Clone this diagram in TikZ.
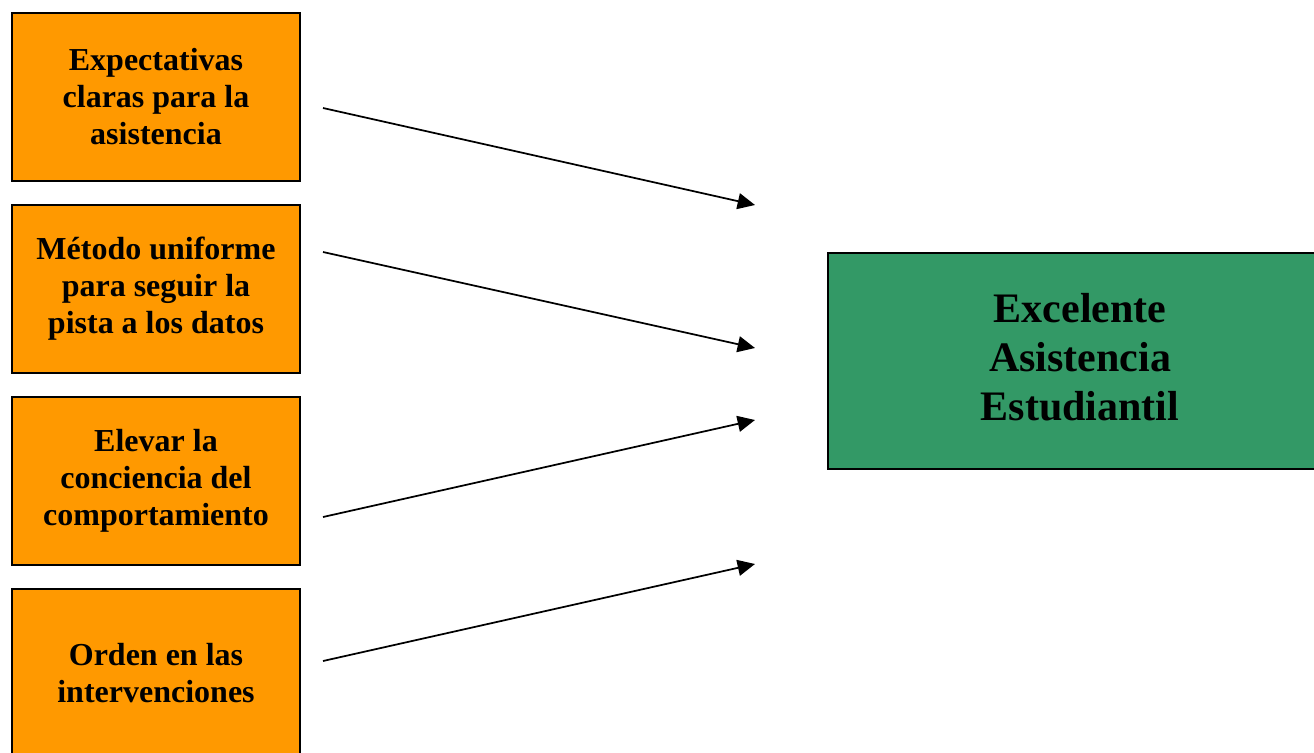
\documentclass[tikz,border=0pt]{standalone}
\usepackage{fontspec}
\setmainfont{Liberation Serif}
\usetikzlibrary{arrows.meta}
\definecolor{boxorange}{HTML}{FF9900}
\definecolor{boxgreen}{HTML}{339966}
\tikzset{
  causebox/.style={draw=black, line width=1.5pt, fill=boxorange, rectangle,
    minimum width=216pt, minimum height=126pt, inner sep=0pt,
    align=center, font=\fontsize{24pt}{27.75pt}\selectfont\bfseries},
  goalbox/.style={draw=black, line width=1.5pt, fill=boxgreen, rectangle,
    minimum width=370pt, minimum height=162pt, inner sep=0pt},
  goaltext/.style={align=center, font=\fontsize{31.5pt}{36.75pt}\selectfont\bfseries},
  flow/.style={line width=1.3pt, -{Triangle[length=13pt,width=12pt]}}
}
\begin{document}
\begin{tikzpicture}[x=0.75pt,y=-0.75pt]
\useasboundingbox (0,0) rectangle (1314,753);
\node[causebox] (c1) at (156,97) {Expectativas\\claras para la\\asistencia};
\node[causebox] (c2) at (156,288.5) {Método uniforme\\para seguir la\\pista a los datos};
\node[causebox] (c3) at (156,480.5) {Elevar la\\conciencia del\\comportamiento};
\node[causebox] (c4) at (156,673) {Orden en las\\intervenciones};
\node[goalbox, anchor=west] (g) at (827,360.5) {};
\node[goaltext] (gt) at (1080,357) {Excelente\\Asistencia\\Estudiantil};
\coordinate (s1) at (323,108);
\coordinate (e1) at (755,205);
\coordinate (s2) at (323,252);
\coordinate (e2) at (755,348);
\coordinate (s3) at (323,517);
\coordinate (e3) at (755,420);
\coordinate (s4) at (323,661);
\coordinate (e4) at (755,564);
\draw[flow] (s1) -- (e1);
\draw[flow] (s2) -- (e2);
\draw[flow] (s3) -- (e3);
\draw[flow] (s4) -- (e4);
\end{tikzpicture}
\end{document}
